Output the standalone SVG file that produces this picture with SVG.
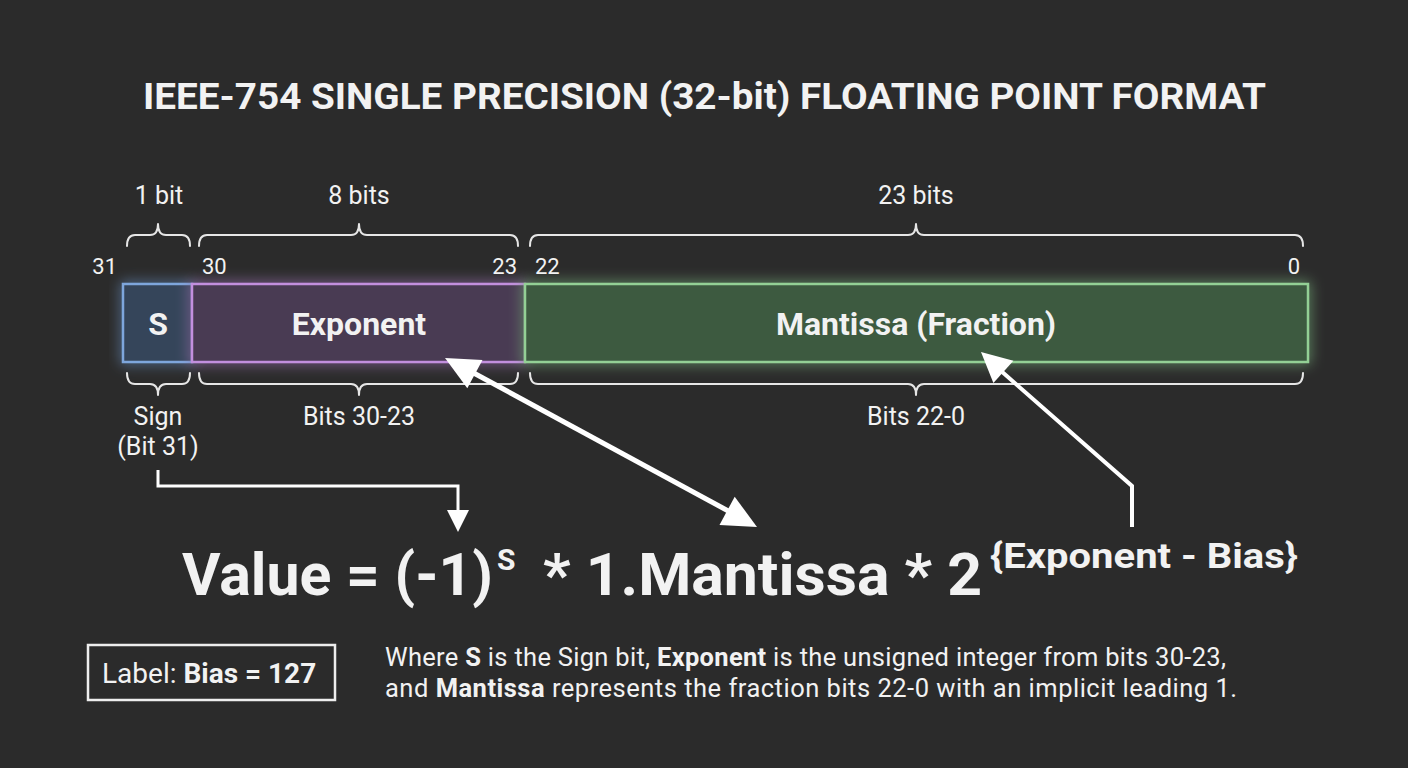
<svg xmlns="http://www.w3.org/2000/svg" width="1408" height="768" viewBox="0 0 1408 768">
<defs>
<style>
text{font-family:Roboto,"Liberation Sans",sans-serif;fill:#f2f2f2}
.b{font-weight:bold}
.lbl{font-size:25px}
.num{font-size:22px}
.fld{font-size:32px;font-weight:bold;text-anchor:middle}
.mid{text-anchor:middle}
.brace{fill:none;stroke:#e6e6e6;stroke-width:2;stroke-linecap:round;stroke-linejoin:round}
.con{fill:none;stroke:#ffffff;stroke-linejoin:miter}
.head{fill:#ffffff}
</style>
<filter id="glow" x="-20%" y="-60%" width="140%" height="220%">
<feGaussianBlur in="SourceGraphic" stdDeviation="7" result="bl"/>
<feMerge><feMergeNode in="bl"/><feMergeNode in="SourceGraphic"/></feMerge>
</filter>
</defs>
<rect width="1408" height="768" fill="#2b2b2b"/>

<g id="title">
<text x="143" y="109" class="b" font-size="36" textLength="1123" lengthAdjust="spacingAndGlyphs">IEEE-754 SINGLE PRECISION (32-bit) FLOATING POINT FORMAT</text>
</g>

<g id="sign-field">
<rect x="123" y="284" width="69" height="78" fill="#34455a" stroke="#7ea6dc" stroke-width="2.5" filter="url(#glow)"/>
<text x="158" y="335" class="fld">S</text>
</g>
<g id="exponent-field">
<rect x="192" y="284" width="333" height="78" fill="#483a52" stroke="#c28fde" stroke-width="2.5" filter="url(#glow)"/>
<text x="359" y="335" class="fld">Exponent</text>
</g>
<g id="mantissa-field">
<rect x="525" y="284" width="783" height="78" fill="#3d5a41" stroke="#93d095" stroke-width="2.5" filter="url(#glow)"/>
<text x="916" y="335" class="fld">Mantissa (Fraction)</text>
</g>

<g id="bit-numbers" class="num">
<text x="117" y="274" text-anchor="end">31</text>
<text x="202" y="274">30</text>
<text x="517" y="274" text-anchor="end">23</text>
<text x="535" y="274">22</text>
<text x="1300" y="274" text-anchor="end">0</text>
</g>

<g id="top-braces">
<path class="brace" d="M127,246 Q127,235 135,235 L150,235 Q158,235 158,224 Q158,235 166,235 L182,235 Q190,235 190,246"/>
<path class="brace" d="M199,246 Q199,235 207,235 L351,235 Q359,235 359,224 Q359,235 367,235 L510,235 Q518,235 518,246"/>
<path class="brace" d="M530,246 Q530,235 538,235 L908,235 Q916,235 916,224 Q916,235 924,235 L1295,235 Q1303,235 1303,246"/>
<text x="159" y="204" class="lbl mid">1 bit</text>
<text x="359" y="204" class="lbl mid">8 bits</text>
<text x="916" y="204" class="lbl mid">23 bits</text>
</g>

<g id="bottom-braces">
<path class="brace" d="M127,373 Q127,384 135,384 L150,384 Q158,384 158,395 Q158,384 166,384 L182,384 Q190,384 190,373"/>
<path class="brace" d="M199,373 Q199,384 207,384 L351,384 Q359,384 359,395 Q359,384 367,384 L510,384 Q518,384 518,373"/>
<path class="brace" d="M530,373 Q530,384 538,384 L908,384 Q916,384 916,395 Q916,384 924,384 L1295,384 Q1303,384 1303,373"/>
<text x="158" y="425" class="lbl mid">Sign</text>
<text x="158" y="455" class="lbl mid">(Bit 31)</text>
<text x="359" y="425" class="lbl mid">Bits 30-23</text>
<text x="916" y="425" class="lbl mid">Bits 22-0</text>
</g>

<g id="connectors">
<polyline class="con" stroke-width="3" points="158,470 158,486 458,486 458,514"/>
<polygon class="head" points="447,510 469,510 458,532"/>
<line class="con" stroke-width="5" x1="470" y1="371" x2="732" y2="513"/>
<polygon class="head" points="445,358 482.5,360 467.3,388.3"/>
<polygon class="head" points="757,527 719.5,525 734.7,496.7"/>
<polyline class="con" stroke-width="4" points="1132,527 1132,486 1000,370"/>
<polygon class="head" points="981,352 1013.4,360.7 993.4,383.1"/>
</g>

<g id="formula" class="b">
<text x="182" y="595" font-size="60" textLength="311" lengthAdjust="spacingAndGlyphs">Value = (-1)</text>
<text x="497" y="570" font-size="30">S</text>
<text x="543" y="595" font-size="60" textLength="439" lengthAdjust="spacingAndGlyphs">* 1.Mantissa * 2</text>
<text x="990" y="568" font-size="35" textLength="308" lengthAdjust="spacingAndGlyphs">{Exponent - Bias}</text>
</g>

<g id="bias-label">
<rect x="88" y="645" width="247" height="55" fill="none" stroke="#eeeeee" stroke-width="2.5"/>
<text x="102" y="683" font-size="28">Label: <tspan class="b">Bias = 127</tspan></text>
</g>

<g id="description" font-size="25.5">
<text x="385" y="666" textLength="841" lengthAdjust="spacing">Where <tspan class="b">S</tspan> is the Sign bit, <tspan class="b">Exponent</tspan> is the unsigned integer from bits 30-23,</text>
<text x="385" y="697" textLength="852" lengthAdjust="spacing">and <tspan class="b">Mantissa</tspan> represents the fraction bits 22-0 with an implicit leading 1.</text>
</g>
</svg>
